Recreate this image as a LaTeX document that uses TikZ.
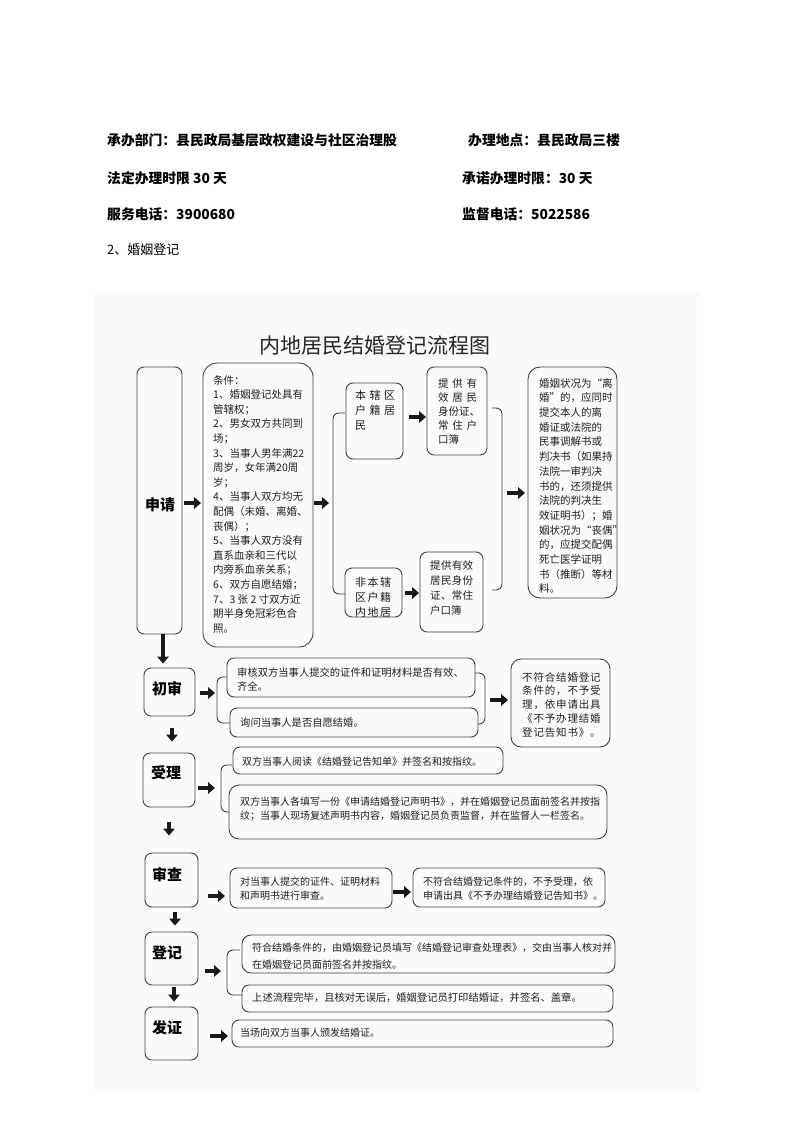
\documentclass[tikz,border=0pt]{standalone}
\usepackage{fontspec}
\setmainfont{Noto Sans CJK SC}
\newfontfamily\cjksp{Noto Sans CJK SC}[LetterSpace=8]
\usetikzlibrary{arrows.meta,fit}
\definecolor{scanbg}{RGB}{249,250,251}
\begin{document}
\begin{tikzpicture}[x=1pt,y=-1pt,
  box/.style={draw=black!75, line width=0.9pt, rounded corners=7pt, inner sep=0pt},
  txt/.style={inner sep=0pt, anchor=north west, align=left, text=black!88},
  line/.style={inner sep=0pt, anchor=west, text=black!88},
  stage/.style={inner sep=0pt, text=black, font=\bfseries\fontsize{15}{15}\selectfont},
  head/.style={inner sep=0pt, anchor=west, text=black, font=\bfseries\fontsize{13.8}{14}\selectfont},
  barrow/.style={line width=4.2pt, black!90, -{Triangle[length=7pt,width=11.5pt]}},
  varrow/.style={line width=4.5pt, black!90, -{Triangle[length=7pt,width=11.5pt]}},
  brk/.style={draw=black!75, line width=0.9pt, rounded corners=6pt},
]
\useasboundingbox (0,0) rectangle (793,1122);
\fill[white] (0,0) rectangle (793,1122);
% scanned area
\fill[scanbg] (95,292) rectangle (700,1092);

% header
\node[head] (h1) at (107,140) {承办部门：县民政局基层政权建设与社区治理股};
\node[head] (h2) at (468,140) {办理地点：县民政局三楼};
\node[head] (h3) at (107,178) {法定办理时限 30 天};
\node[head] (h4) at (462,178) {承诺办理时限：30 天};
\node[head] (h5) at (107,214) {服务电话：3900680};
\node[head] (h6) at (462,214) {监督电话：5022586};
\node[inner sep=0pt, anchor=west, font=\fontsize{13}{13}\selectfont] (h7) at (107,250) {2、婚姻登记};

% title
\node[inner sep=0pt, text=black!85, font=\fontsize{21}{21}\selectfont] (title) at (375,346) {内地居民结婚登记流程图};

% ---------- 申请 ----------
\node[box, fit={(137,367)(182,634)}] (shen) {};
\node[stage] (shenL) at (160,505) {申请};
\node[box, rounded corners=14pt, fit={(203,363)(313,647)}] (cond) {};
\node[txt, font=\fontsize{10.5}{14.6}\selectfont] (condT) at (213,375) {条件：\\1、婚姻登记处具有\\管辖权；\\2、男女双方共同到\\场；\\3、当事人男年满22\\周岁，女年满20周\\岁；\\4、当事人双方均无\\配偶（未婚、离婚、\\丧偶）；\\5、当事人双方没有\\直系血亲和三代以\\内旁系血亲关系；\\6、双方自愿结婚；\\7、3 张 2 寸双方近\\期半身免冠彩色合\\照。};

\node[box, fit={(346,383)(403,459)}] (bd1) {};
\node[txt, font=\fontsize{11}{15}\selectfont] (bd1T) at (355,390) {\makebox[40pt]{本\hfill 辖\hfill 区}\\\makebox[40pt]{户\hfill 籍\hfill 居}\\民};
\node[box, fit={(427,367)(487,455)}] (pv1) {};
\node[txt, font=\fontsize{10.5}{14.2}\selectfont] (pv1T) at (438,378) {\makebox[39pt]{提\hfill 供\hfill 有}\\\makebox[39pt]{效\hfill 居\hfill 民}\\身份证、\\\makebox[39pt]{常\hfill 住\hfill 户}\\口簿};

\node[box, fit={(345,568)(402,617)}] (bd2) {};
\node[txt, font=\fontsize{11}{15}\selectfont] (bd2T) at (355,577) {\makebox[36pt]{非\hfill 本\hfill 辖}\\\makebox[36pt]{区\hfill 户\hfill 籍}\\\makebox[36pt]{内\hfill 地\hfill 居}};
\node[box, fit={(420,552)(483,632)}] (pv2) {};
\node[txt, font=\fontsize{10.5}{15}\selectfont] (pv2T) at (430,560) {\makebox[43pt]{提\hfill 供\hfill 有\hfill 效}\\\makebox[43pt]{居\hfill 民\hfill 身\hfill 份}\\\makebox[43pt]{证\hfill 、\hfill 常\hfill 住}\\户口簿};

\node[box, rounded corners=12pt, fit={(528,367)(617,598)}] (mr) {};
\node[txt, font=\fontsize{10.5}{14.7}\selectfont] (mrT) at (539,378) {婚姻状况为“离\\婚”的，应同时\\提交本人的离\\婚证或法院的\\民事调解书或\\判决书（如果持\\法院一审判决\\书的，还须提供\\法院的判决生\\效证明书）；婚\\姻状况为“丧偶”\\的，应提交配偶\\死亡医学证明\\书（推断）等材\\料。};

% brackets
\draw[brk] (345,413) -- (333,413) -- (333,594) -- (345,594);
\draw[brk] (492,408) -- (502,408) -- (502,590) -- (492,590);
\coordinate (lb1) at (333,503);
\coordinate (rb1) at (502,493);

% arrows
\coordinate (a1) at (201,503);
\draw[barrow, shorten <=2pt] (shen.east |- a1) -- (a1);
\coordinate (a2) at (329,503);
\draw[barrow, shorten <=1pt] (cond.east |- a2) -- (a2);
\coordinate (a3) at (426,417);
\draw[barrow, shorten <=6pt] (bd1.east |- a3) -- (a3);
\coordinate (a4) at (419,593);
\draw[barrow, shorten <=3pt] (bd2.east |- a4) -- (a4);
\coordinate (a5) at (525,493);
\draw[barrow, shorten <=5pt] (rb1) -- (a5);

% ---------- 初审 ----------
\node[box, fit={(144,668)(195,716)}] (chu) {};
\node[stage] (chuL) at (167,689) {初审};
\node[box, fit={(227,658)(475,697)}] (cb1) {};
\node[txt, font=\fontsize{10.3}{14}\selectfont] (cb1T) at (237,668) {审核双方当事人提交的证件和证明材料是否有效、\\齐全。};
\node[box, fit={(230,708)(478,737)}] (cb2) {};
\node[line, font=\fontsize{10.3}{14}\selectfont] (cb2T) at (240,723) {询问当事人是否自愿结婚。};
\node[box, rounded corners=10pt, fit={(511,659)(610,747)}] (cr) {};
\node[txt, font=\cjksp\fontsize{10.5}{13.8}\selectfont] (crT) at (522,672) {不符合结婚登记\\条件的，不予受\\理，依申请出具\\《不予办理结婚\\登记告知书》。};
\draw[brk] (227,677) -- (217,677) -- (217,723) -- (230,723);
\draw[brk] (475,673) -- (485,673) -- (485,724) -- (478,724);
\coordinate (rb2) at (485,700);
\coordinate (a6) at (215,693);
\draw[barrow, shorten <=5pt] (chu.east |- a6) -- (a6);
\coordinate (a7) at (508,700);
\draw[barrow, shorten <=5pt] (rb2) -- (a7);
\draw[varrow, shorten >=4pt] ([xshift=3.5pt]shen.south) -- ([xshift=3.5pt]shen.south |- chu.north);

% ---------- 受理 ----------
\node[box, fit={(143,753)(195,807)}] (shou) {};
\node[stage] (shouL) at (166,773) {受理};
\node[box, fit={(233,747)(503,774)}] (sb1) {};
\node[line, font=\fontsize{10}{13.3}\selectfont] (sb1T) at (242,762) {双方当事人阅读《结婚登记告知单》并签名和按指纹。};
\node[box, rounded corners=10pt, fit={(229,785)(607,839)}] (sb2) {};
\node[txt, font=\fontsize{10}{13.5}\selectfont] (sb2T) at (240,797) {双方当事人各填写一份《申请结婚登记声明书》，并在婚姻登记员面前签名并按指\\纹；当事人现场复述声明书内容，婚姻登记员负责监督，并在监督人一栏签名。};
\draw[brk] (232,765) -- (221,765) -- (221,812) -- (229,812);
\coordinate (a8) at (215,788);
\draw[barrow, shorten <=3pt] (shou.east |- a8) -- (a8);
\draw[varrow, shorten <=12pt, shorten >=11pt] ([xshift=2.5pt]chu.south) -- ([xshift=2.5pt]chu.south |- shou.north);

% ---------- 审查 ----------
\node[box, fit={(145,853)(198,907)}] (sc) {};
\node[stage] (scL) at (167,875) {审查};
\node[box, fit={(230,868)(392,908)}] (sc1) {};
\node[txt, font=\fontsize{10}{13.5}\selectfont] (sc1T) at (240,877) {对当事人提交的证件、证明材料\\和声明书进行审查。};
\node[box, fit={(413,868)(605,907)}] (sc2) {};
\node[txt, font=\fontsize{10}{13.5}\selectfont] (sc2T) at (423,877) {不符合结婚登记条件的，不予受理，依\\申请出具《不予办理结婚登记告知书》。};
\coordinate (a9) at (225,896);
\draw[barrow, shorten <=10pt] (sc.east |- a9) -- (a9);
\coordinate (a10) at (411,892);
\draw[barrow, shorten <=1pt] (sc1.east |- a10) -- (a10);
\draw[varrow, shorten <=15pt, shorten >=17pt] (shou.south) -- (shou.south |- sc.north);

% ---------- 登记 ----------
\node[box, fit={(145,932)(198,985)}] (dj) {};
\node[stage] (djL) at (167,953) {登记};
\node[box, rounded corners=9pt, fit={(242,935)(615,973)}] (dj1) {};
\node[txt, font=\fontsize{10}{17}\selectfont] (dj1T) at (252,943) {符合结婚条件的，由婚姻登记员填写《结婚登记审查处理表》，交由当事人核对并\\在婚姻登记员面前签名并按指纹。};
\node[box, fit={(242,985)(613,1012)}] (dj2) {};
\node[line, font=\fontsize{10.3}{14}\selectfont] (dj2T) at (252,998) {上述流程完毕，且核对无误后，婚姻登记员打印结婚证，并签名、盖章。};
\draw[brk] (240,950) -- (227,950) -- (227,995) -- (242,995);
\coordinate (a11) at (221,971);
\draw[barrow, shorten <=7pt] (dj.east |- a11) -- (a11);
\draw[varrow, shorten <=5pt, shorten >=6pt] ([xshift=3.5pt]sc.south) -- ([xshift=3.5pt]sc.south |- dj.north);

% ---------- 发证 ----------
\node[box, fit={(145,1007)(198,1060)}] (fz) {};
\node[stage] (fzL) at (167,1028) {发证};
\node[box, fit={(232,1020)(613,1047)}] (fz1) {};
\node[line, font=\fontsize{10}{14}\selectfont] (fz1T) at (240,1033) {当场向双方当事人颁发结婚证。};
\coordinate (a12) at (228,1036);
\draw[barrow, shorten <=12pt] (fz.east |- a12) -- (a12);
\draw[varrow, shorten <=2pt, shorten >=5pt] ([xshift=2.5pt]dj.south) -- ([xshift=2.5pt]dj.south |- fz.north);
\end{tikzpicture}
\end{document}
